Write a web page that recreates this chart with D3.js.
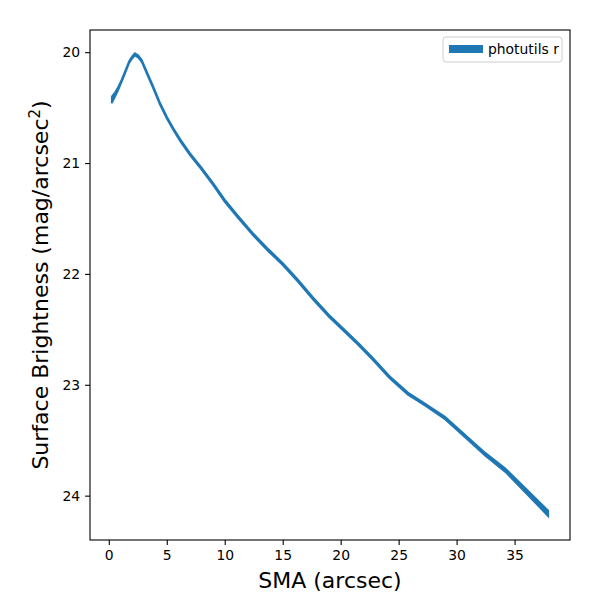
<!DOCTYPE html>
<html>
<head>
<script src="https://d3js.org/d3.v7.min.js"></script>
<style>
  body { margin: 0; background: #fff; }
  text { font-family: "DejaVu Sans", sans-serif; }
</style>
</head>
<body>
<script>
  // semi-major axis (arcsec) and surface brightness (mag/arcsec^2)
  var sma = [0.26, 0.5, 0.8, 1.1, 1.45, 1.75, 2.0, 2.25, 2.55, 2.85, 3.3, 3.8, 4.4, 5.0,
    5.6, 6.2, 7.0, 8.0, 9.0, 10.0, 11.1, 12.5, 13.8, 15.0, 16.3, 17.6, 19.0, 20.2, 21.5,
    22.8, 24.2, 25.8, 27.3, 29.0, 30.7, 32.5, 34.2, 36.0, 37.9];
  var mu = [20.43, 20.39, 20.33, 20.26, 20.17, 20.09, 20.05, 20.02, 20.04, 20.08, 20.19,
    20.31, 20.46, 20.59, 20.70, 20.80, 20.92, 21.05, 21.19, 21.34, 21.48, 21.65, 21.79,
    21.91, 22.06, 22.22, 22.38, 22.50, 22.63, 22.77, 22.93, 23.08, 23.18, 23.30, 23.46,
    23.63, 23.77, 23.96, 24.16];
  var muErr = [0.03, 0.02, 0.015, 0.01, 0.01, 0.01, 0.01, 0.01, 0.01, 0.01, 0.01, 0.01,
    0.01, 0.01, 0.01, 0.01, 0.01, 0.01, 0.01, 0.01, 0.01, 0.01, 0.01, 0.01, 0.01, 0.01,
    0.01, 0.01, 0.01, 0.01, 0.01, 0.01, 0.01, 0.012, 0.012, 0.014, 0.016, 0.02, 0.025];
  var xTicks = [0, 5, 10, 15, 20, 25, 30, 35];
  var yTicks = [20, 21, 22, 23, 24];
  var seriesName = "photutils r";

  var width = 600, height = 600;
  var margin = { top: 30, right: 30, bottom: 60, left: 90 };
  var color = "#1f77b4";

  var data = sma.map(function(s, i) {
    return { x: s, y: mu[i], e: muErr[i] };
  });

  var svg = d3.select("body").append("svg")
    .attr("width", width)
    .attr("height", height);

  var x = d3.scaleLinear()
    .domain([-1.62, 39.78])
    .range([margin.left, width - margin.right]);

  // magnitudes: brighter at the top
  var y = d3.scaleLinear()
    .domain([19.8, 24.4])
    .range([margin.top, height - margin.bottom]);

  var band = d3.area()
    .x(function(d) { return x(d.x); })
    .y0(function(d) { return y(d.y - d.e); })
    .y1(function(d) { return y(d.y + d.e); });

  svg.append("path")
    .datum(data)
    .attr("d", band)
    .attr("fill", color)
    .attr("stroke", color)
    .attr("stroke-width", 1.8)
    .attr("stroke-linejoin", "miter");

  var xAxis = svg.append("g")
    .attr("transform", "translate(0," + (height - margin.bottom) + ")")
    .call(d3.axisBottom(x).tickValues(xTicks).tickFormat(d3.format("d"))
      .tickSize(4.9).tickPadding(4.9));

  var yAxis = svg.append("g")
    .attr("transform", "translate(" + margin.left + ",0)")
    .call(d3.axisLeft(y).tickValues(yTicks).tickFormat(d3.format("d"))
      .tickSize(4.9).tickPadding(4.9));

  [xAxis, yAxis].forEach(function(g) {
    g.select(".domain").remove();
    g.selectAll("line").attr("stroke", "#000").attr("stroke-width", 1.1);
    g.selectAll("text")
      .attr("fill", "#000")
      .style("font-family", "DejaVu Sans")
      .style("font-size", "13.9px");
  });

  // frame
  svg.append("rect")
    .attr("x", margin.left)
    .attr("y", margin.top)
    .attr("width", width - margin.left - margin.right)
    .attr("height", height - margin.top - margin.bottom)
    .attr("fill", "none")
    .attr("stroke", "#000")
    .attr("stroke-width", 1.1);

  svg.append("text")
    .attr("x", (margin.left + width - margin.right) / 2)
    .attr("y", 588)
    .attr("text-anchor", "middle")
    .style("font-size", "22px")
    .text("SMA (arcsec)");

  var yl = svg.append("text")
    .attr("transform", "translate(48," + ((margin.top + height - margin.bottom) / 2) + ") rotate(-90)")
    .attr("text-anchor", "middle")
    .style("font-size", "22px");
  yl.append("tspan").text("Surface Brightness (mag/arcsec");
  yl.append("tspan").attr("dy", -8).style("font-size", "15px").text("2");
  yl.append("tspan").attr("dy", 8).text(")");

  // legend
  var legend = svg.append("g").attr("transform", "translate(443,37)");
  legend.append("rect")
    .attr("width", 119)
    .attr("height", 25)
    .attr("rx", 3)
    .attr("fill", "#fff")
    .attr("fill-opacity", 0.8)
    .attr("stroke", "#ccc")
    .attr("stroke-width", 1);
  legend.append("rect")
    .attr("x", 6)
    .attr("y", 8)
    .attr("width", 34)
    .attr("height", 8)
    .attr("fill", color);
  legend.append("text")
    .attr("x", 45)
    .attr("y", 17)
    .style("font-size", "13.9px")
    .text(seriesName);
</script>
</body>
</html>
